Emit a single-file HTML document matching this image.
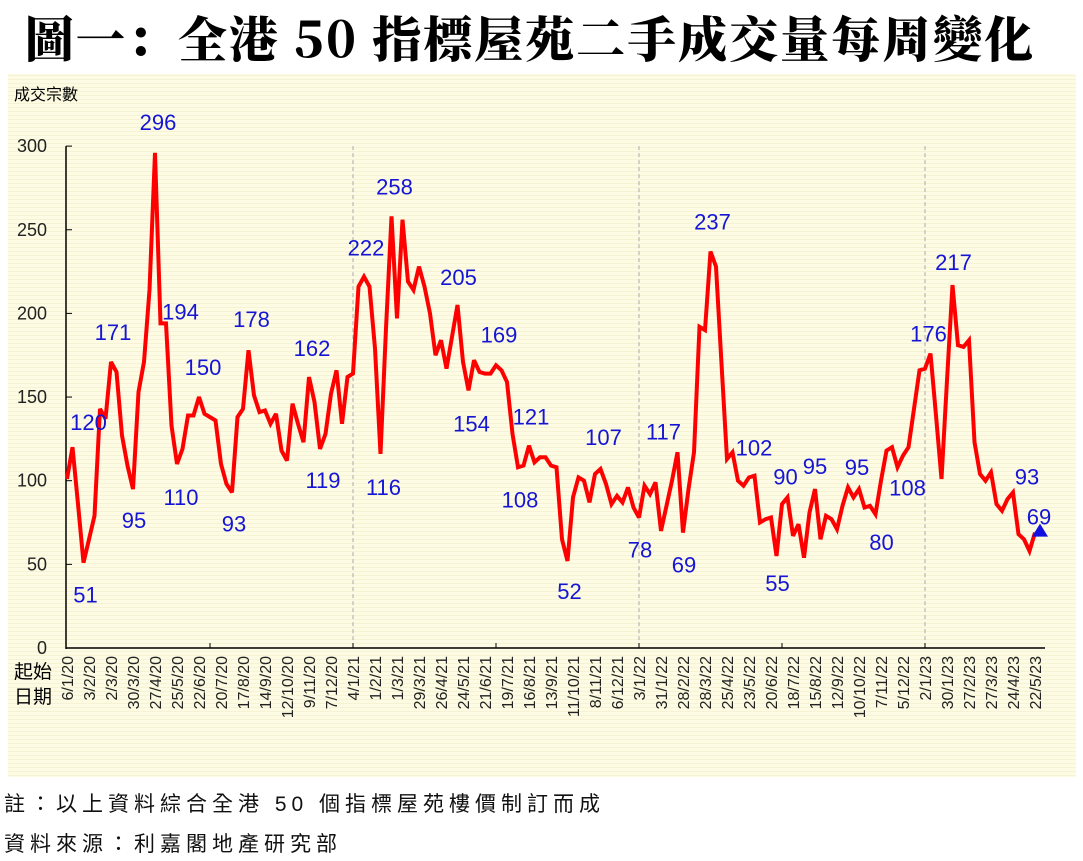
<!DOCTYPE html>
<html><head><meta charset="utf-8">
<style>
body{margin:0;width:1083px;height:861px;background:#fff;overflow:hidden;position:relative;font-family:"Liberation Sans","Noto Sans CJK TC",sans-serif}
#title{position:absolute;left:0;top:2px;width:1060px;text-align:center;font-family:"Noto Serif CJK SC","Noto Sans CJK TC",serif;font-weight:900;font-size:49px;letter-spacing:2px;color:#000;white-space:nowrap}
.note{position:absolute;left:4px;font-size:21px;letter-spacing:5px;color:#111;white-space:nowrap}
</style></head><body>
<div id="title">圖一：全港 50 指標屋苑二手成交量每周變化</div>
<svg id="chart" width="1083" height="861" style="position:absolute;left:0;top:0">
<defs><pattern id="stripes" width="4" height="4" patternUnits="userSpaceOnUse"><rect width="4" height="4" fill="#fdfbe3"/><rect y="3" width="4" height="1" fill="#f6f2d4"/></pattern></defs>
<rect x="8" y="74" width="1068" height="703" fill="url(#stripes)"/>
<text x="14" y="100" font-size="16" font-family="Liberation Sans,Noto Sans CJK TC,sans-serif">成交宗數</text>
<text x="14" y="678" font-size="19" font-family="Liberation Sans,Noto Sans CJK TC,sans-serif">起始</text>
<text x="14" y="703" font-size="19" font-family="Liberation Sans,Noto Sans CJK TC,sans-serif">日期</text>
<g id="grid"></g><g id="axes"></g><g id="series"></g><g id="labels"></g>
</svg>
<div class="note" style="top:788px">註：以上資料綜合全港 50 個指標屋苑樓價制訂而成</div>
<div class="note" style="top:828px">資料來源：利嘉閣地產研究部</div>
<script>
const values=[101,120,86,51,65,79,143,137,171,165,127,109,95,153,171,214,296,194,194,133,110,119,139,139,150,140,138,136,110,98,93,138,143,178,151,141,142,134,140,118,112,146,134,123,162,147,119,128,152,166,134,162,164,
216,222,216,179,116,191,258,197,256,219,214,228,216,200,175,184,167,186,205,171,154,172,165,164,164,169,166,159,128,108,109,121,111,114,114,109,108,65,52,90,102,100,87,104,107,98,86,91,87,96,84,78,
97,92,99,70,85,100,117,69,95,117,192,190,237,228,170,113,117,100,97,102,103,75,77,78,55,86,90,67,74,54,81,95,65,79,77,71,85,96,90,95,84,85,80,100,118,120,108,115,120,143,166,167,176,139,101,160,217,181,180,184,123,104,100,105,86,82,89,93,68,65,58,69];
const yTicks=[0,50,100,150,200,250,300];
const labelIdx=[1,3,8,12,16,17,20,24,30,33,44,46,54,57,59,71,73,78,82,84,91,97,104,111,112,117,124,129,131,136,144,147,151,157,161,172,176];
const labelDx=[16,2,2,1,3,20,4,4,2,3,3,3,2,3,3,1,3,3,2,2,2,3,1,-14,1,2,5,1,-2,0,-2,6,10,-2,1,14,4];
const labelDy=[-25,32,-30,31,-31,-12,33,-30,31,-31,-29,31,-29,33,-30,-28,33,-31,32,-29,30,-32,32,-21,32,-30,-30,27,-21,-23,-22,28,20,-20,-23,-16,-16];
const startDate=new Date(2020,0,6);
const X0=67,STEP=5.5,Y0=648,YS=1.673;
const xs=i=>X0+i*STEP, ys=v=>Y0-v*YS;
const NS='http://www.w3.org/2000/svg';
function mk(t,a,p){const e=document.createElementNS(NS,t);for(const k in a)e.setAttribute(k,a[k]);p.appendChild(e);return e;}
const grid=document.getElementById('grid'),axes=document.getElementById('axes'),series=document.getElementById('series'),labels=document.getElementById('labels');
[52,104,156].forEach(i=>{const l=mk('line',{x1:xs(i),x2:xs(i),y1:ys(300),y2:Y0,stroke:'#aaa','stroke-dasharray':'4,3','stroke-width':1},grid);

});
const ya=mk('line',{x1:X0-1,x2:X0-1,y1:ys(300),y2:Y0+1,stroke:'#000','stroke-width':1.5},axes);


const xa=mk('line',{x1:X0-1,x2:xs(values.length-1)+10,y1:Y0,y2:Y0,stroke:'#000','stroke-width':1.5},axes);


yTicks.forEach(v=>{const t=mk('line',{x1:X0-1,x2:X0+5,y1:ys(v),y2:ys(v),stroke:'#000','stroke-width':1},axes);


const tx=mk('text',{x:X0-20,y:ys(v)+6,'text-anchor':'end','font-size':18,fill:'#222'},axes);


tx.textContent=v;});
for(let i=0;i<values.length;i+=4){const d=new Date(startDate.getTime()+i*7*86400000);
const s=d.getDate()+'/'+(d.getMonth()+1)+'/'+String(d.getFullYear()).slice(2);
const x=xs(i);
const t=mk('text',{x:0,y:0,transform:`translate(${x+6},656) rotate(-90)`,'text-anchor':'end','font-size':16,fill:'#222'},axes);


t.textContent=s;}
for(let i=26;i<values.length;i+=26){const t=mk('line',{x1:xs(i),x2:xs(i),y1:Y0,y2:Y0-5,stroke:'#000'},axes);

}
const pts=values.map((v,i)=>xs(i).toFixed(1)+','+ys(v).toFixed(1)).join(' ');
const pl=mk('polyline',{points:pts,fill:'none',stroke:'#ff0000','stroke-width':4,'stroke-linejoin':'miter','stroke-miterlimit':3},series);


const li=values.length-1,lx=xs(li)+5,ly=ys(values[li]);
const tri=mk('polygon',{points:`${lx},${ly-9} ${lx-8},${ly+4} ${lx+8},${ly+4}`,fill:'#1010e0'},series);


labelIdx.forEach((idx,k)=>{const t=mk('text',{x:xs(idx)+labelDx[k],y:ys(values[idx])+labelDy[k]+8,'text-anchor':'middle','font-size':22,fill:'#1515d5'},labels);


t.textContent=values[idx];});
</script>
</body></html>
